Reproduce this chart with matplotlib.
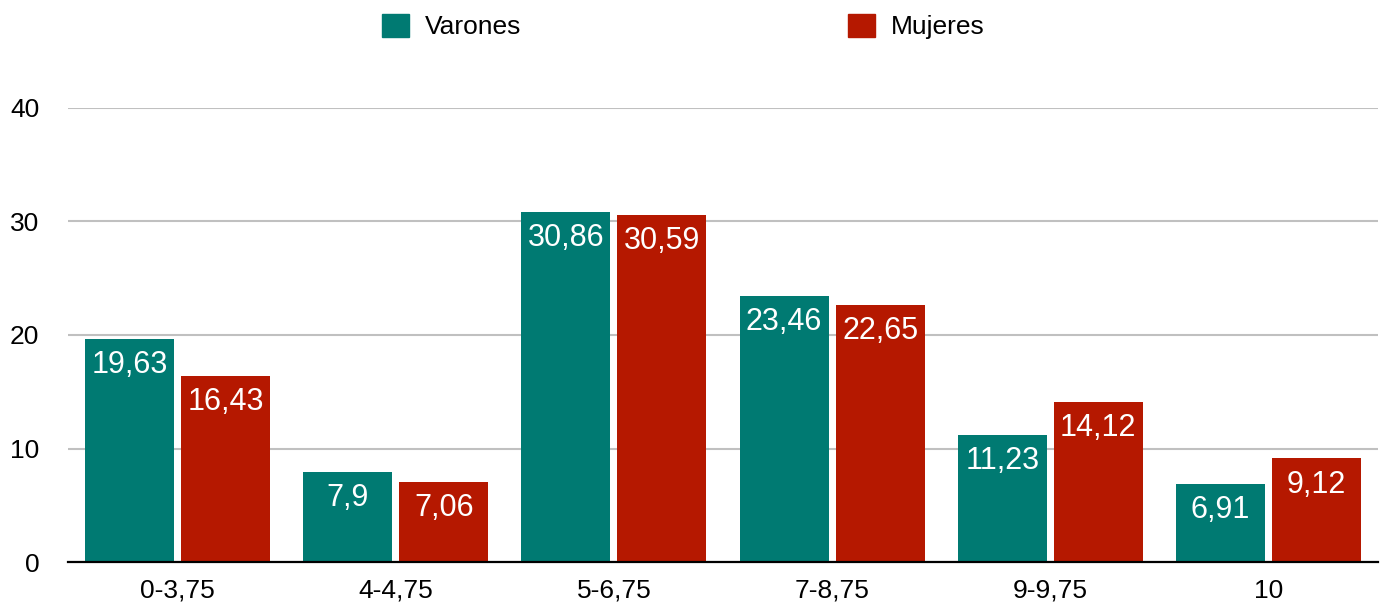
import numpy as np
from matplotlib import pyplot as plt
from matplotlib.patches import Patch

categories = ["0-3,75", "4-4,75", "5-6,75", "7-8,75", "9-9,75", "10"]
varones = [19.63, 7.9, 30.86, 23.46, 11.23, 6.91]
mujeres = [16.43, 7.06, 30.59, 22.65, 14.12, 9.12]
series_names = ["Varones", "Mujeres"]
y_ticks = [0, 10, 20, 30, 40]

TEAL = "#007A72"
RED = "#B51800"

plt.rcParams["font.family"] = ["Liberation Sans", "DejaVu Sans"]

fig = plt.figure(figsize=(13.87, 6.02), dpi=100)
ax = fig.add_axes([68.4 / 1387, 1 - 562 / 602, (1377.6 - 68.4) / 1387, (562 - 108) / 602])

x = np.arange(len(categories))
width = 0.408
offset = 0.22

bars_v = ax.bar(x - offset, varones, width, color=TEAL, zorder=3)
bars_m = ax.bar(x + offset, mujeres, width, color=RED, zorder=3)


def fmt(v):
    return f"{v:g}".replace(".", ",")


# value labels inside the top of each bar
for bars, values in ((bars_v, varones), (bars_m, mujeres)):
    for b, v in zip(bars, values):
        ax.annotate(fmt(v), (b.get_x() + b.get_width() / 2, v),
                    xytext=(0, -8), textcoords="offset points",
                    ha="center", va="top", color="white", fontsize=22, zorder=4)

ax.set_xlim(-0.5, len(categories) - 0.5)
ax.set_ylim(0, 40)
ax.set_yticks(y_ticks)
ax.set_xticks(x)
ax.set_xticklabels(categories)
ax.tick_params(axis="y", length=0, pad=21, labelsize=19)
ax.tick_params(axis="x", length=0, pad=12, labelsize=19)

ax.grid(axis="y", color="#C0C0C0", linewidth=1.5, zorder=0)
for side in ("left", "right", "top"):
    ax.spines[side].set_visible(False)
ax.spines["bottom"].set_linewidth(1.6)
ax.spines["bottom"].set_color("black")
ax.spines["bottom"].set_zorder(5)

handles = [Patch(color=TEAL), Patch(color=RED)]
fig.legend(handles, series_names, loc="center left",
           bbox_to_anchor=(382 / 1387, 1 - 26.5 / 602), ncol=2, frameon=False,
           fontsize=19, handlelength=1.02, handleheight=0.95, handletextpad=0.6,
           columnspacing=12.4, borderpad=0, borderaxespad=0)

fig.savefig("out.png", dpi=100)
